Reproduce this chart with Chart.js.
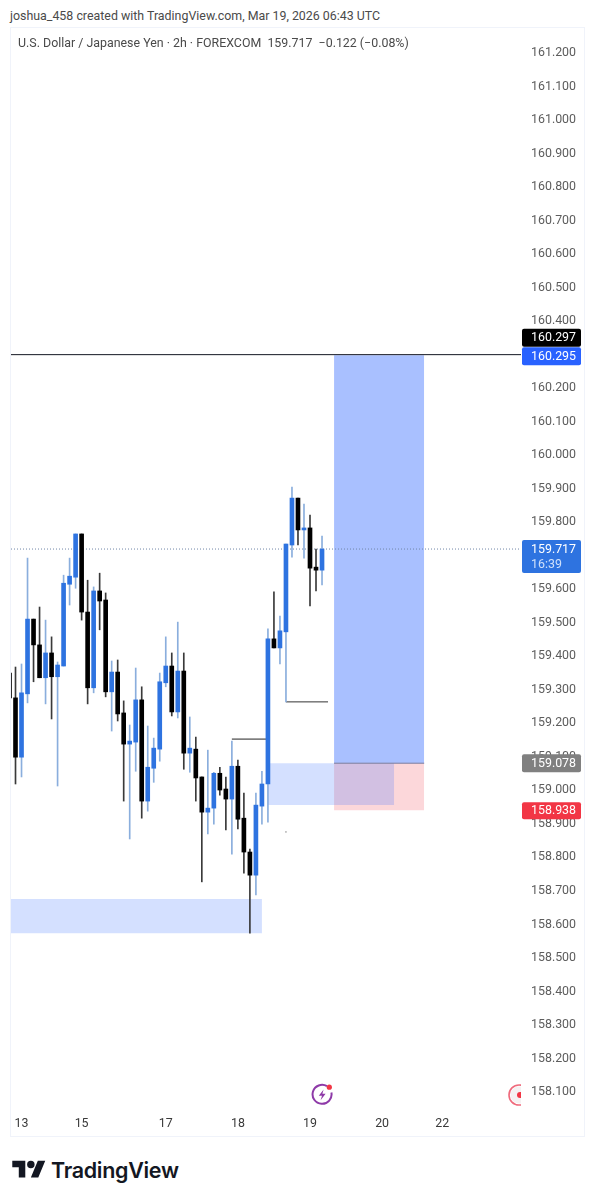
<!DOCTYPE html>
<html>
<head>
<meta charset="utf-8">
<script src="https://cdn.jsdelivr.net/npm/chart.js@4/dist/chart.umd.js"></script>
<style>
  html, body { margin: 0; padding: 0; background: #fff; }
  body { width: 595px; height: 1200px; position: relative; overflow: hidden; font-family: Roboto, sans-serif; }
  .credit { position: absolute; left: 10px; top: 8px; font-size: 12.4px; line-height: 16px; color: #4a4a4a; white-space: nowrap; }
  .frame { position: absolute; left: 10px; top: 27px; width: 575px; height: 1110px; box-sizing: border-box; border: 1px solid #f0f3fa; }
  #chart { position: absolute; left: 10px; top: 27px; }
  .legend { position: absolute; left: 18px; top: 35px; font-size: 12.4px; line-height: 16px; color: #4a4a4a; white-space: pre; }
  .icon { position: absolute; }
  .brand { position: absolute; left: 51px; top: 1156px; font-family: Inter, sans-serif; font-weight: 600; font-size: 21.5px; line-height: 28px; color: #131722; letter-spacing: -0.3px; }
</style>
</head>
<body>
<div class="credit">joshua_458 created with TradingView.com, Mar 19, 2026 06:43 UTC</div>
<div class="frame"></div>
<canvas id="chart" width="575" height="1110"></canvas>
<div class="legend">U.S. Dollar / Japanese Yen · 2h · FOREXCOM  159.717  −0.122 (−0.08%)</div>

<svg class="icon" style="left:310px;top:1083px" width="26" height="24" viewBox="0 0 26 24">
  <path d="M17 3.2A9.5 9.5 0 1 0 21.4 9.5" fill="none" stroke="#8e3aa8" stroke-width="2"/>
  <path d="M13.6 6.5 L8.8 12.8 H12 L10.6 17.2 L15.6 10.8 H12.4 Z" fill="#8e3aa8"/>
  <circle cx="19.3" cy="4.2" r="2.6" fill="#f23645"/>
</svg>
<svg class="icon" style="left:507px;top:1084px" width="14" height="22" viewBox="0 0 14 22">
  <circle cx="12" cy="11" r="8.5" fill="#f5f1f2"/>
  <circle cx="12" cy="11" r="10" fill="none" stroke="#ef6a7c" stroke-width="1.6"/>
  <circle cx="13" cy="11" r="3" fill="#f23645"/>
</svg>
<svg class="icon" style="left:12px;top:1157px" width="34" height="26" viewBox="0 0 36 28">
  <path d="M14 22H7V11H0V4h14v18zM28 22h-8l7.5-18h8L28 22z" fill="#131722"/>
  <circle cx="20" cy="8" r="4" fill="#131722"/>
</svg>
<div class="brand">TradingView</div>

<script>
// USD/JPY 2h candles
const opens = [159.347, 159.273, 159.096, 159.285, 159.508, 159.431, 159.333, 159.407, 159.336, 159.368, 159.612, 159.633, 159.762, 159.529, 159.303, 159.592, 159.565, 159.291, 159.350, 159.228, 159.135, 159.141, 159.267, 158.965, 159.063, 159.120, 159.318, 159.368, 159.231, 159.353, 159.108, 159.120, 159.037, 158.932, 158.944, 159.048, 159.001, 158.971, 159.069, 158.914, 158.813, 158.744, 158.950, 159.016, 159.449, 159.422, 159.470, 159.729, 159.869, 159.774, 159.780, 159.663, 159.654];
const highs = [159.347, 159.365, 159.374, 159.690, 159.508, 159.544, 159.505, 159.455, 159.380, 159.639, 159.690, 159.762, 159.762, 159.624, 159.604, 159.645, 159.586, 159.383, 159.386, 159.264, 159.192, 159.362, 159.306, 159.189, 159.153, 159.347, 159.455, 159.407, 159.499, 159.407, 159.216, 159.156, 159.037, 159.117, 159.051, 159.066, 159.037, 159.144, 159.087, 158.989, 158.822, 158.989, 159.054, 159.479, 159.589, 159.517, 159.732, 159.902, 159.869, 159.851, 159.818, 159.717, 159.756];
const lows = [159.273, 159.016, 159.037, 159.258, 159.321, 159.333, 159.255, 159.210, 159.010, 159.368, 159.550, 159.600, 159.505, 159.255, 159.288, 159.476, 159.276, 159.174, 159.204, 158.965, 158.852, 159.054, 158.914, 158.935, 159.021, 159.084, 159.306, 159.219, 159.213, 159.060, 159.051, 158.965, 158.724, 158.867, 158.896, 158.983, 158.879, 158.807, 158.882, 158.750, 158.571, 158.685, 158.896, 158.902, 159.422, 159.374, 159.261, 159.693, 159.729, 159.690, 159.547, 159.592, 159.610];
const closes = [159.273, 159.096, 159.288, 159.508, 159.431, 159.333, 159.407, 159.336, 159.371, 159.615, 159.636, 159.762, 159.529, 159.303, 159.592, 159.562, 159.291, 159.350, 159.225, 159.135, 159.144, 159.267, 158.965, 159.066, 159.123, 159.321, 159.368, 159.231, 159.353, 159.108, 159.123, 159.034, 158.932, 158.944, 159.048, 158.998, 158.971, 159.069, 158.911, 158.813, 158.744, 158.953, 159.016, 159.449, 159.422, 159.473, 159.732, 159.869, 159.774, 159.780, 159.660, 159.654, 159.717];

const tickBars = [2, 12, 26, 38, 50, 62, 72];
const tickDays = ["13", "15", "17", "18", "19", "20", "22"];

const lastPrice = 159.717;
const entryPrice = 159.078;
const targetPrice = 160.295;
const stopPrice = 158.938;
const ruleLine = 160.297;
const positionBars = [54, 69];
const upperZoneBars = [43, 64];
const upperZonePrices = [159.078, 158.953];
const lowerZoneBars = [0.25, 42];
const lowerZonePrices = [158.673, 158.571];
const stepLeft = { bars: [37, 43], price: 159.150 };
const stepRight = { bars: [46, 53], price: 159.261 };
const strayDot = { bar: 46, price: 158.873 };

const xMin = 0.25;
const xMax = 85.108;
const yMin = 158.0493;
const yMax = 161.2716;

const UP = "#2e73e0";
const DOWN = "#000000";
const ROBOTO = "Roboto, sans-serif";

const bars = closes.map((_, i) => i);
const isUp = i => closes[i] >= opens[i];

function pickBars(test, makeY) {
    return bars.filter(test).map(i => ({ x: i, y: makeY(i) }));
}

function box(xs, top, bottom, color, order) {
    return {
        type: "line",
        data: xs.map(x => ({ x: x, y: top })),
        borderWidth: 0,
        pointRadius: 0,
        backgroundColor: color,
        fill: { value: bottom },
        order: order
    };
}

function hline(xs, price, color, order, dash) {
    return {
        type: "line",
        data: xs.map(x => ({ x: x, y: price })),
        borderColor: color,
        borderWidth: 1,
        borderDash: dash || [],
        pointRadius: 0,
        fill: false,
        order: order
    };
}

function candleBars(data, color, thickness, order) {
    return {
        type: "bar",
        data: data,
        backgroundColor: color,
        borderWidth: 0,
        barThickness: thickness,
        grouped: false,
        order: order
    };
}

// the black one sits above the blue one, they would collide otherwise
const badges = [
    { price: ruleLine, text: "160.297", bg: "#000000", up: 26, down: -8, textShift: -17 },
    { price: targetPrice, text: "160.295", bg: "#2962ff", up: 8, down: 10, textShift: 1 },
    { price: lastPrice, text: "159.717", sub: "16:39", bg: UP, up: 9, down: 24, textShift: 0 },
    { price: entryPrice, text: "159.078", bg: "#808080", up: 9, down: 9, textShift: 0 },
    { price: stopPrice, text: "158.938", bg: "#f23645", up: 8, down: 9, textShift: 0 }
];

const priceBadges = {
    id: "priceBadges",
    afterDraw(chart) {
        const ctx = chart.ctx;
        const y = chart.scales.y;
        const left = chart.chartArea.right + 1;
        ctx.save();
        ctx.font = "12.4px " + ROBOTO;
        ctx.textBaseline = "middle";
        ctx.textAlign = "left";
        badges.forEach(b => {
            const py = y.getPixelForValue(b.price);
            ctx.fillStyle = b.bg;
            ctx.beginPath();
            ctx.roundRect(left, py - b.up, 59, b.up + b.down, 2);
            ctx.fill();
            ctx.fillStyle = "#ffffff";
            ctx.fillText(b.text, left + 9, py + b.textShift + 0.5);
            if (b.sub) {
                ctx.fillStyle = "#cfe0fa";
                ctx.fillText(b.sub, left + 9, py + 15.5);
            }
        });
        ctx.restore();
    }
};

new Chart(document.getElementById("chart"), {
    type: "bar",
    data: {
        datasets: [
            box(positionBars, targetPrice, entryPrice, "rgba(41,98,255,0.4)", 9),
            box(positionBars, entryPrice, stopPrice, "rgba(242,54,69,0.2)", 9),
            box(upperZoneBars, upperZonePrices[0], upperZonePrices[1], "rgba(41,98,255,0.2)", 8),
            box(lowerZoneBars, lowerZonePrices[0], lowerZonePrices[1], "rgba(41,98,255,0.2)", 8),
            hline(positionBars, entryPrice, "#7d7d9c", 7),
            hline([xMin, xMax], ruleLine, "#131722", 7),
            hline([xMin, xMax], lastPrice, "#6f86a8", 7, [1, 2]),
            hline(stepLeft.bars, stepLeft.price, "#222222", 6),
            hline(stepRight.bars, stepRight.price, "#333333", 6),
            {
                type: "scatter",
                data: [{ x: strayDot.bar, y: strayDot.price }],
                pointRadius: 0.6,
                borderWidth: 0,
                backgroundColor: "#555555",
                order: 6
            },
            candleBars(pickBars(isUp, i => [lows[i], highs[i]]), "#8aaedd", 1, 5),
            candleBars(pickBars(i => !isUp(i), i => [lows[i], highs[i]]), "#3a3a3a", 1, 5),
            candleBars(pickBars(isUp, i => [opens[i], closes[i]]), UP, 4, 4),
            candleBars(pickBars(i => !isUp(i), i => [opens[i], closes[i]]), DOWN, 4, 4)
        ]
    },
    options: {
        responsive: false,
        animation: false,
        layout: { autoPadding: false, padding: { left: 1, top: 1 } },
        plugins: { legend: { display: false }, tooltip: { enabled: false }, title: { display: false } },
        scales: {
            x: {
                type: "linear",
                min: xMin,
                max: xMax,
                offset: false,
                grid: { display: false, tickLength: 0 },
                border: { display: false },
                afterBuildTicks: scale => {
                    scale.ticks = tickBars.map(v => ({ value: v }));
                },
                afterFit: scale => {
                    scale.height = 29;
                    scale.paddingLeft = 0;
                    scale.paddingRight = 0;
                },
                ticks: {
                    autoSkip: false,
                    maxRotation: 0,
                    padding: 8,
                    color: "#3a3a3a",
                    font: { family: ROBOTO, size: 12.4 },
                    callback: v => tickDays[tickBars.indexOf(v)]
                }
            },
            y: {
                position: "right",
                min: yMin,
                max: yMax,
                grid: { display: false, tickLength: 0 },
                border: { display: false },
                afterFit: scale => {
                    scale.width = 64;
                    scale.paddingTop = 0;
                    scale.paddingBottom = 0;
                },
                ticks: {
                    stepSize: 0.1,
                    includeBounds: false,
                    autoSkip: false,
                    padding: 10,
                    labelOffset: 1,
                    color: "#5d5d5d",
                    font: { family: ROBOTO, size: 12.4 },
                    callback: v => v.toFixed(3)
                }
            }
        }
    },
    plugins: [priceBadges]
});
</script>
</body>
</html>
